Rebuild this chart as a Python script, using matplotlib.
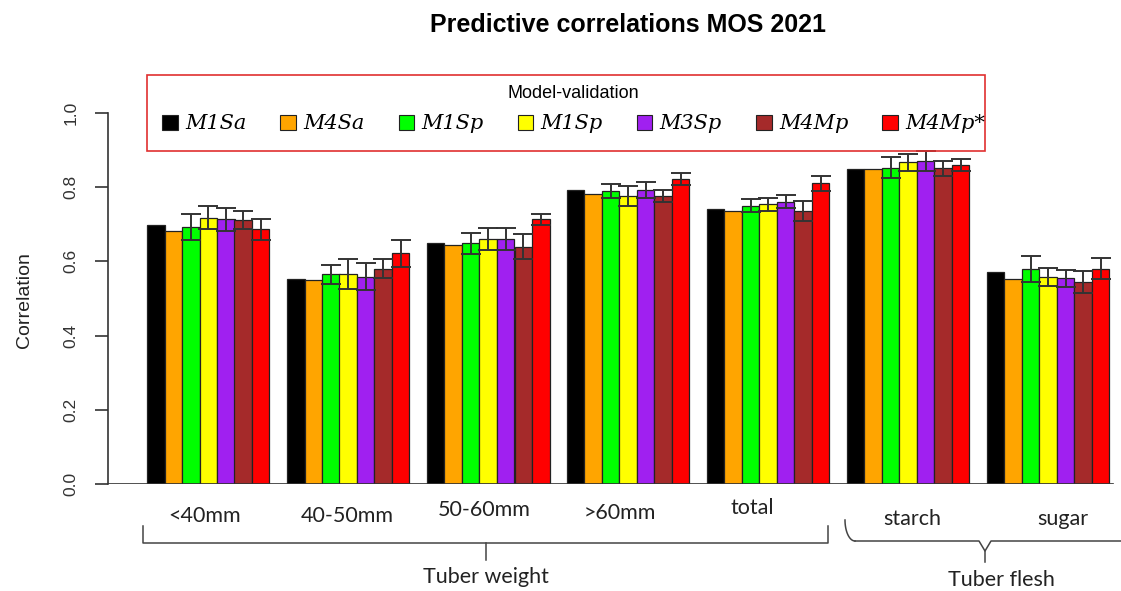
"""
Predictive correlations MOS 2021 - grouped bar chart with error bars.
"""

import matplotlib
matplotlib.use("Agg")
from matplotlib import pyplot as plt
from matplotlib.lines import Line2D
from matplotlib.patches import Patch, Rectangle
import numpy as np

W, H = 1121, 591

categories = ["<40mm", "40-50mm", "50-60mm", ">60mm", "total", "starch", "sugar"]
models = ["M1Sa", "M4Sa", "M1Sp", "M1Sp", "M3Sp", "M4Mp", "M4Mp*"]
colors = ["black", "#FFA500", "#00FF00", "#FFFF00", "#A020F0", "#A52A2A", "#FF0000"]

# mean correlation per model, one value per category
m1sa = [0.698, 0.553, 0.649, 0.792, 0.740, 0.849, 0.572]
m4sa = [0.683, 0.550, 0.643, 0.782, 0.736, 0.848, 0.552]
m1sp = [0.692, 0.565, 0.649, 0.789, 0.750, 0.853, 0.580]
m1sp_b = [0.718, 0.566, 0.661, 0.776, 0.754, 0.867, 0.559]
m3sp = [0.713, 0.559, 0.661, 0.792, 0.761, 0.871, 0.554]
m4mp = [0.712, 0.580, 0.640, 0.776, 0.736, 0.851, 0.545]
m4mp_star = [0.687, 0.622, 0.714, 0.821, 0.810, 0.860, 0.580]

# error bar half widths (M1Sa and M4Sa have none)
err_m1sp = [0.035, 0.025, 0.028, 0.019, 0.018, 0.028, 0.035]
err_m1sp_b = [0.030, 0.040, 0.029, 0.027, 0.017, 0.022, 0.024]
err_m3sp = [0.030, 0.037, 0.030, 0.022, 0.018, 0.027, 0.022]
err_m4mp = [0.025, 0.026, 0.033, 0.017, 0.026, 0.020, 0.030]
err_m4mp_star = [0.028, 0.037, 0.015, 0.016, 0.021, 0.015, 0.028]

series = [m1sa, m4sa, m1sp, m1sp_b, m3sp, m4mp, m4mp_star]
errors = [None, None, err_m1sp, err_m1sp_b, err_m3sp, err_m4mp, err_m4mp_star]

# label positions taken from the annotated figure (pixels)
label_x = [205, 347, 484, 620, 752, 912, 1063]
label_y = [516, 516, 510, 513, 508, 519, 519]


def fx(x):
    return x / W


def fy(y):
    return 1 - y / H


fig = plt.figure(figsize=(W / 100, H / 100), dpi=100)

# axes placed so that x=0 is 129.5 px and one bar is 17.5 px
bar_px = 17.5
x_left, x_right = 108, 1117
xmin = (x_left - 129.5) / bar_px
xmax = (x_right - 129.5) / bar_px
ax = fig.add_axes([fx(x_left), fy(484), fx(x_right) - fx(x_left), fy(113) - fy(484)])

n_models = len(models)
for i, (vals, err, col) in enumerate(zip(series, errors, colors)):
    xs = np.arange(len(categories)) * (n_models + 1) + 1 + i + 0.5
    ax.bar(xs, vals, width=1.0, color=col, edgecolor="#222222", linewidth=0.9, zorder=2)
    if err is not None:
        ax.errorbar(xs, vals, yerr=err, fmt="none", ecolor="#333333", elinewidth=1.4,
                    capsize=7.5, capthick=1.4, zorder=3, clip_on=False)

ax.set_xlim(xmin, xmax)
ax.set_ylim(0, 1.0)
ax.axhline(0, xmin=0, xmax=(56.2 - xmin) / (xmax - xmin), color="#333333", lw=1.2, zorder=4)

for side in ["top", "right", "bottom"]:
    ax.spines[side].set_visible(False)
ax.spines["left"].set_color("#333333")
ax.spines["left"].set_linewidth(1.2)
ax.set_xticks([])
ax.set_yticks([0.0, 0.2, 0.4, 0.6, 0.8, 1.0])
ax.set_yticklabels(["0.0", "0.2", "0.4", "0.6", "0.8", "1.0"], rotation=90, va="center",
                   fontsize=12.5, family="Liberation Sans", color="#333333")
ax.tick_params(axis="y", length=9.5, width=1.2, color="#333333", pad=12)

fig.text(fx(25), fy(300), "Correlation", rotation=90, ha="center", va="center",
         fontsize=14, family="Liberation Sans", color="#222222")

fig.text(fx(628), fy(25), "Predictive correlations MOS 2021", ha="center", va="center",
         fontsize=18, fontweight="bold", family="Liberation Sans")

# legend box
box_x0, box_x1, box_y0, box_y1 = 147, 985, 75, 151
fig.add_artist(Rectangle((fx(box_x0), fy(box_y1)), fx(box_x1) - fx(box_x0), fy(box_y0) - fy(box_y1),
                         transform=fig.transFigure, fill=False, edgecolor="#E03030", lw=1.2))
handles = [Patch(facecolor=c, edgecolor="#222222", linewidth=0.8) for c in colors]
leg = fig.legend(handles, models, ncol=n_models, loc="upper left",
                 bbox_to_anchor=(fx(162), fy(85), fx(985) - fx(162), 0.0),
                 mode="expand", frameon=False, title="Model-validation",
                 handlelength=0.75, handleheight=0.75, handletextpad=0.35,
                 borderpad=0.0, borderaxespad=0.0,
                 prop={"family": "DejaVu Serif", "style": "italic", "size": 15},
                 title_fontproperties={"family": "Liberation Sans", "size": 13})
leg._legend_box.sep = 9

# category labels
for name, x, y in zip(categories, label_x, label_y):
    fig.text(fx(x), fy(y), name, ha="center", va="center", fontsize=15.5, family="Lato",
             color="#222222")

line_kw = dict(color="#444444", lw=1.1, transform=fig.transFigure)

# Tuber weight bracket
fig.add_artist(Line2D([fx(143), fx(143), fx(828), fx(828)], [fy(526), fy(543), fy(543), fy(526)], **line_kw))
fig.add_artist(Line2D([fx(486), fx(486)], [fy(543), fy(560)], **line_kw))
fig.text(fx(486), fy(577), "Tuber weight", ha="center", va="center", fontsize=15.5, family="Lato",
         color="#222222")

# Tuber flesh bracket (soft curly brace)
t = np.linspace(0, np.pi / 2, 20)
curve_x = 845 + 10 * (1 - np.cos(t))
curve_y = 520 + 21 * np.sin(t)
fig.add_artist(Line2D([fx(v) for v in curve_x], [fy(v) for v in curve_y], **line_kw))
fig.add_artist(Line2D([fx(855), fx(979), fx(985), fx(991), fx(1121)],
                      [fy(541), fy(541), fy(551), fy(541), fy(541)], **line_kw))
fig.add_artist(Line2D([fx(985), fx(985)], [fy(551), fy(562)], **line_kw))
fig.text(fx(1001), fy(580), "Tuber flesh", ha="center", va="center", fontsize=15.5, family="Lato",
         color="#222222")

fig.savefig("out.png", dpi=100)
